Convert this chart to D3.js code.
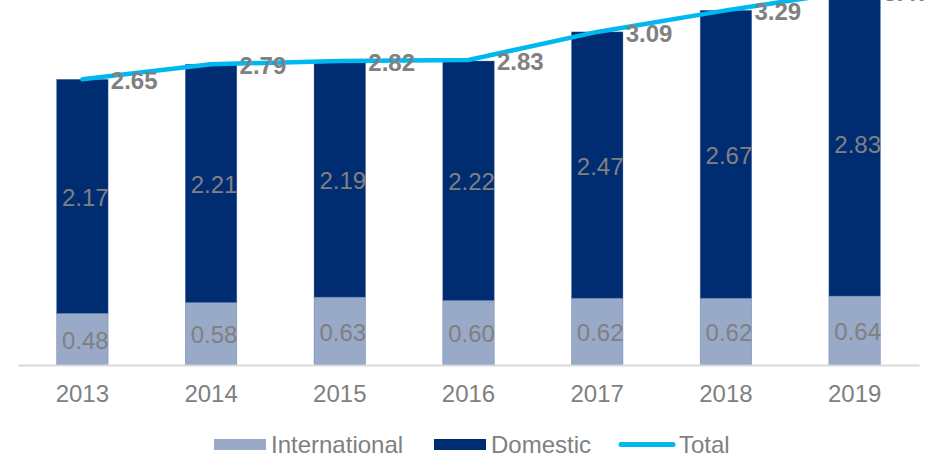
<!DOCTYPE html>
<html>
<head>
<meta charset="utf-8">
<script src="https://cdn.jsdelivr.net/npm/d3@7"></script>
<style>
  html, body { margin: 0; padding: 0; background: #fff; }
  svg { display: block; font-family: "Liberation Sans", Arial, sans-serif; }
</style>
</head>
<body>
<svg id="chart" width="949" height="456"></svg>
<script>
// Passenger volumes by year (stacked: international + domestic), with total line
const years = ["2013", "2014", "2015", "2016", "2017", "2018", "2019"];
const international = [0.48, 0.58, 0.63, 0.60, 0.62, 0.62, 0.64];
const domestic = [2.17, 2.21, 2.19, 2.22, 2.47, 2.67, 2.83];
const totals = [2.65, 2.79, 2.82, 2.83, 3.09, 3.29, 3.47];
const seriesNames = ["International", "Domestic", "Total"];

const colors = {
  International: "#98aac8",
  Domestic: "#002d72",
  Total: "#00b8f0",
  text: "#808080",
  axis: "#d9d9d9"
};

const svg = d3.select("#chart");
const baseY = 365;

const x = d3.scaleBand()
  .domain(years)
  .range([18, 919])
  .paddingInner(0.6)
  .paddingOuter(0.3);

const y = d3.scaleLinear()
  .domain([0, 3.386])
  .range([baseY, 0]);

const rows = years.map((yr, i) => ({
  year: yr,
  International: international[i],
  Domestic: domestic[i],
  Total: totals[i]
}));

const stacked = d3.stack().keys(["International", "Domestic"])(rows);

// stacked bars
const layers = svg.append("g").selectAll("g")
  .data(stacked)
  .join("g")
  .attr("fill", d => colors[d.key]);

layers.selectAll("rect")
  .data(d => d)
  .join("rect")
  .attr("x", d => x(d.data.year))
  .attr("y", d => y(d[1]))
  .attr("width", x.bandwidth())
  .attr("height", d => y(d[0]) - y(d[1]))
  .attr("stroke", "#4d6fa6")
  .attr("stroke-width", 0.6)
  .attr("stroke-opacity", 0.6);

// segment value labels
stacked.forEach(layer => {
  svg.append("g").selectAll("text")
    .data(layer)
    .join("text")
    .attr("x", d => x(d.data.year) + x.bandwidth() / 2 + 3)
    .attr("y", d => (y(d[0]) + y(d[1])) / 2 + 1)
    .attr("text-anchor", "middle")
    .attr("dominant-baseline", "central")
    .attr("fill", colors.text)
    .attr("font-size", 24)
    .text(d => d3.format(".2f")(d.data[layer.key]));
});

// x axis baseline and tick labels
const xAxis = svg.append("g")
  .attr("transform", `translate(0,${baseY})`)
  .call(d3.axisBottom(x).tickSize(0).tickPadding(20));
xAxis.select(".domain")
  .attr("stroke", colors.axis)
  .attr("stroke-width", 2);
xAxis.selectAll("text")
  .attr("fill", colors.text)
  .attr("font-size", 24)
  .attr("font-family", "Liberation Sans, Arial, sans-serif");

// total line
const line = d3.line()
  .x(d => x(d.year) + x.bandwidth() / 2)
  .y(d => y(d.Total));

svg.append("path")
  .datum(rows)
  .attr("d", line)
  .attr("fill", "none")
  .attr("stroke", colors.Total)
  .attr("stroke-width", 4.5)
  .attr("stroke-linecap", "round")
  .attr("stroke-linejoin", "round");

// total labels
svg.append("g").selectAll("text")
  .data(rows)
  .join("text")
  .attr("x", d => x(d.year) + x.bandwidth() / 2 + 28.5)
  .attr("y", d => y(d.Total) + 1.5)
  .attr("dominant-baseline", "central")
  .attr("fill", colors.text)
  .attr("font-size", 24)
  .attr("font-weight", "bold")
  .text(d => d3.format(".2f")(d.Total));

// legend
const legendY = 444;
const legendItems = [
  { name: seriesNames[0], x: 214, kind: "rect" },
  { name: seriesNames[1], x: 434, kind: "rect" },
  { name: seriesNames[2], x: 619, kind: "line" }
];
const lg = svg.append("g");
legendItems.forEach(item => {
  if (item.kind === "rect") {
    lg.append("rect")
      .attr("x", item.x)
      .attr("y", legendY - 5)
      .attr("width", 52)
      .attr("height", 11)
      .attr("fill", colors[item.name]);
    lg.append("text")
      .attr("x", item.x + 57)
      .attr("y", legendY)
      .attr("dominant-baseline", "central")
      .attr("fill", colors.text)
      .attr("font-size", 24)
      .text(item.name);
  } else {
    lg.append("line")
      .attr("x1", item.x + 2)
      .attr("x2", item.x + 54)
      .attr("y1", legendY + 0.5)
      .attr("y2", legendY + 0.5)
      .attr("stroke", colors[item.name])
      .attr("stroke-width", 5)
      .attr("stroke-linecap", "round");
    lg.append("text")
      .attr("x", item.x + 60)
      .attr("y", legendY)
      .attr("dominant-baseline", "central")
      .attr("fill", colors.text)
      .attr("font-size", 24)
      .text(item.name);
  }
});
</script>
</body>
</html>
